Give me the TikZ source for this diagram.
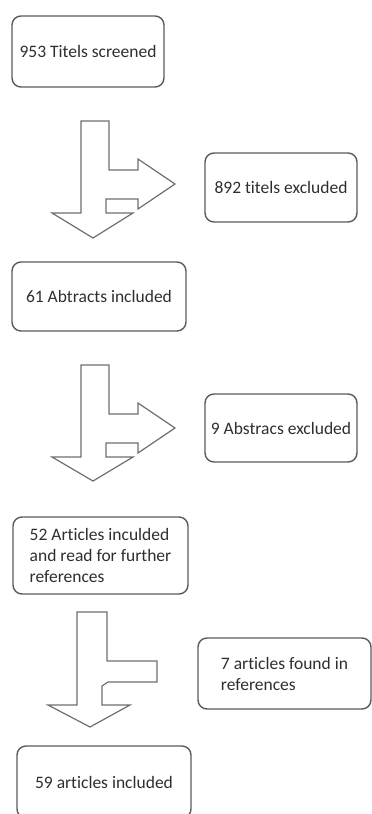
\documentclass[tikz,border=0pt]{standalone}
\usepackage{fontspec}
\setmainfont{Carlito}[Ligatures=NoCommon]

\tikzstyle{flow-box}=[draw={box-line}, line width=1.4pt, rounded corners=9pt, inner sep=0pt, text={box-text}, font=\fontsize{17.5}{21}\selectfont]
\tikzstyle{split-arrow}=[draw={arrow-line}, line width=1.2pt, line join=miter]
\definecolor{box-line}{HTML}{5a5a5a}
\definecolor{box-text}{HTML}{2e2e2e}
\definecolor{arrow-line}{HTML}{6e6e6e}

\begin{document}
\begin{tikzpicture}
      \useasboundingbox (0pt, 0pt) rectangle (372pt, -814pt);

      % boxes
      \node (screened) at (88pt, -51.5pt)
            [flow-box, minimum width=152pt, minimum height=71pt] {953 Titels screened};
      \node (titlesout) at (281pt, -187.5pt)
            [flow-box, minimum width=152pt, minimum height=69pt] {892 titels excluded};
      \node (abstractsin) at (99pt, -296.5pt)
            [flow-box, minimum width=174pt, minimum height=69pt] {61 Abtracts included};
      \node (abstractsout) at (281pt, -428pt)
            [flow-box, minimum width=152pt, minimum height=68pt] {9 Abstracs excluded};
      \node (articlesread) at (100.5pt, -555.5pt)
            [flow-box, minimum width=175pt, minimum height=77pt, align=left] {52 Articles inculded\\and read for further\\references};
      \node (articlesfound) at (284.5pt, -673.5pt)
            [flow-box, minimum width=173pt, minimum height=71pt, align=left] {7 articles found in\\references};
      \node (articlesin) at (104pt, -782pt)
            [flow-box, minimum width=174pt, minimum height=72pt] {59 articles included};

      % split arrows
      \draw[split-arrow] (81pt, -121pt) -- (109pt, -121pt) -- (109pt, -170pt) -- (138pt, -170pt)
            -- (138pt, -159pt) -- (175pt, -184pt) -- (138pt, -209pt) -- (138pt, -199pt)
            -- (106pt, -199pt) -- (106pt, -213pt) -- (133pt, -213pt) -- (93pt, -238pt)
            -- (52pt, -213pt) -- (81pt, -213pt) -- cycle;
      \draw[split-arrow] (81pt, -365pt) -- (109pt, -365pt) -- (109pt, -414pt) -- (138pt, -414pt)
            -- (138pt, -403pt) -- (175pt, -428pt) -- (138pt, -453pt) -- (138pt, -443pt)
            -- (106pt, -443pt) -- (106pt, -457pt) -- (133pt, -457pt) -- (93pt, -481pt)
            -- (52pt, -457pt) -- (81pt, -457pt) -- cycle;
      \draw[split-arrow] (77pt, -612pt) -- (107pt, -612pt) -- (107pt, -661pt) -- (157pt, -661pt)
            -- (157pt, -682pt) -- (108pt, -682pt) -- (102pt, -686pt) -- (102pt, -705pt)
            -- (130pt, -705pt) -- (90pt, -727pt) -- (48pt, -705pt) -- (77pt, -705pt) -- cycle;
\end{tikzpicture}
\end{document}
